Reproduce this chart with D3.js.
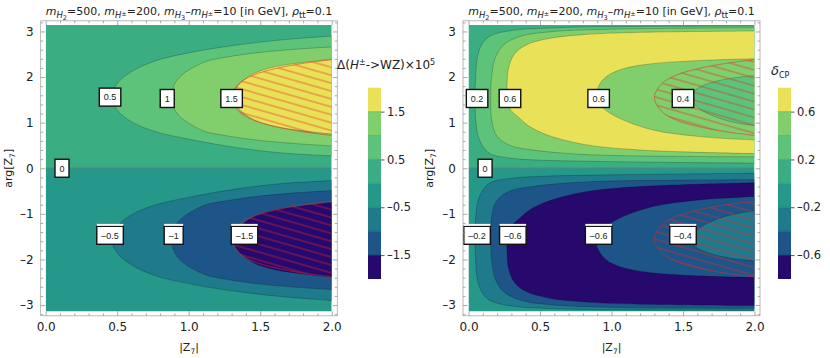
<!DOCTYPE html>
<html>
<head>
<meta charset="utf-8">
<script src="https://d3js.org/d3.v7.min.js"></script>
<style>
  body { margin: 0; background: #fff; }
  svg { display: block; }
  svg text { font-family: 'DejaVu Sans', sans-serif; fill: #222; }
  svg text.clabel { font-family: 'Liberation Sans', Arial, sans-serif; }
</style>
</head>
<body>
<div id="chart"></div>
<script>
(function(){

  // ---------- values ----------
  let xTicks = [0, 0.5, 1, 1.5, 2];
  let yTicks = [-3, -2, -1, 0, 1, 2, 3];

  // band colours, lowest band first
  let bandColors = ['#27096d', '#1e5588', '#1f7a8c', '#25988a', '#3bad83', '#5dc27a', '#80cf6c', '#e9e157'];

  let leftLegendLevels = [-2, -1.5, -1, -0.5, 0, 0.5, 1, 1.5, 2];
  let leftLegendTicks = [-1.5, -0.5, 0.5, 1.5];
  let rightLegendLevels = [-0.8, -0.6, -0.4, -0.2, 0, 0.2, 0.4, 0.6, 0.8];
  let rightLegendTicks = [-0.6, -0.2, 0.2, 0.6];

  // contour lines of the upper half as [|Z7|, arg Z7]; lower half is the mirror with opposite sign
  let leftC05 = [[2,0.27],[1.6,0.35],[1.24,0.5],[1.0,0.64],[0.77,0.8],[0.6,1.02],[0.5,1.28],[0.46,1.57],[0.5,1.86],[0.6,2.12],[0.77,2.36],[1.0,2.53],[1.24,2.66],[1.6,2.8],[2,2.9]];
  let leftC10 = [[2,0.49],[1.75,0.54],[1.47,0.62],[1.25,0.72],[1.12,0.8],[1.02,0.95],[0.95,1.1],[0.9,1.3],[0.88,1.57],[0.9,1.84],[0.95,2.04],[1.02,2.19],[1.12,2.34],[1.25,2.43],[1.47,2.53],[1.75,2.61],[2,2.66]];
  let leftC15 = [[2,0.75],[1.8,0.82],[1.61,0.91],[1.48,1.03],[1.4,1.17],[1.34,1.35],[1.31,1.57],[1.34,1.79],[1.4,1.97],[1.48,2.11],[1.61,2.23],[1.8,2.32],[2,2.39]];

  let rightC02 = [[2,0.11],[1.5,0.125],[1.0,0.145],[0.48,0.18],[0.3,0.22],[0.15,0.32],[0.1,0.48],[0.065,0.73],[0.05,1.1],[0.045,1.55],[0.05,2.0],[0.06,2.4],[0.09,2.7],[0.15,2.9],[0.3,3.02],[0.6,3.08],[1.2,3.11],[2,3.12]];
  let rightC04 = [[2,0.25],[1.5,0.26],[1.0,0.28],[0.71,0.32],[0.45,0.4],[0.29,0.5],[0.2,0.7],[0.165,1.0],[0.155,1.55],[0.165,2.1],[0.19,2.45],[0.25,2.72],[0.37,2.9],[0.6,3.0],[1.0,3.05],[2,3.08]];
  let rightC06 = [[2,0.32],[1.5,0.36],[1.2,0.4],[0.83,0.51],[0.55,0.73],[0.42,0.93],[0.36,1.09],[0.29,1.3],[0.27,1.55],[0.27,1.9],[0.28,2.2],[0.32,2.5],[0.4,2.7],[0.55,2.84],[0.8,2.93],[1.2,2.98],[2,3.01]];
  let rightC06Hole = [[2,0.62],[1.6,0.7],[1.29,0.84],[1.06,1.09],[0.95,1.3],[0.89,1.53],[0.91,1.8],[0.96,2.0],[1.06,2.16],[1.25,2.28],[1.6,2.36],[2,2.4]];
  let rightC04Inner = [[2,0.94],[1.9,0.98],[1.75,1.1],[1.63,1.28],[1.56,1.5],[1.59,1.72],[1.7,1.88],[1.85,1.98],[2,2.03]];

  // red hatched (excluded) region, same in both panels
  let hatchEdge = [[2,0.72],[1.8,0.8],[1.6,0.92],[1.45,1.06],[1.35,1.25],[1.3,1.55],[1.35,1.85],[1.45,2.04],[1.6,2.18],[1.8,2.3],[2,2.38]];

  // contour labels: text, |Z7|, arg Z7
  let leftLabels = [['0.5',0.45,1.56],['1',0.85,1.53],['1.5',1.30,1.53],['0',0.114,0],['–0.5',0.45,-1.47],['–1',0.895,-1.47],['–1.5',1.39,-1.47]];
  let rightLabels = [['0.2',0.06,1.53],['0.6',0.29,1.53],['0.6',0.91,1.53],['0.4',1.5,1.53],['0',0.116,0],['–0.2',0.06,-1.47],['–0.6',0.31,-1.47],['–0.6',0.91,-1.47],['–0.4',1.5,-1.47]];

  // ---------- drawing ----------
  let width = 830;
  let height = 358;
  let fy = [20.8, 315.8];

  let svg = d3.select('#chart')
  .append('svg')
  .attr('width', width)
  .attr('height', height);

  let defs = svg.append('defs');

  let hatch = defs.append('pattern')
  .attr('id', 'hatch')
  .attr('patternUnits', 'userSpaceOnUse')
  .attr('width', 40)
  .attr('height', 7.6)
  .attr('patternTransform', 'rotate(16)');
  hatch.append('line')
  .attr('x1', 0).attr('x2', 40).attr('y1', 3.8).attr('y2', 3.8)
  .attr('stroke', '#e5282a')
  .attr('stroke-opacity', 0.8)
  .attr('stroke-width', 0.8);

  // text with sub/superscripts: parts are [text, {it, dy, fs}]
  function richText(sel, parts, size){
    let shift = 0;
    parts.forEach(([t, o]) => {
      o = o || {};
      let target = o.dy || 0;
      sel.append('tspan')
      .attr('dy', target - shift)
      .attr('font-size', o.fs || size)
      .attr('font-style', o.it ? 'italic' : null)
      .text(t);
      shift = target;
    });
  }

  let sub = {it: 1, dy: 3, fs: 8.5};

  function titleParts(){
    return [['m', {it: 1}], ['H', sub], ['2', {dy: 5, fs: 6.5}], ['=500, '],
      ['m', {it: 1}], ['H', sub], ['±', {dy: 0.5, fs: 6.5}], ['=200, '],
      ['m', {it: 1}], ['H', sub], ['3', {dy: 5, fs: 6.5}], ['–'],
      ['m', {it: 1}], ['H', sub], ['±', {dy: 0.5, fs: 6.5}], ['=10 [in GeV], '],
      ['ρ', {it: 1}], ['tt', {dy: 3, fs: 8.5}], ['=0.1']];
  }

  let dash = (s) => s.replace('−', '–');

  function styleAxis(g){
    g.attr('font-size', 12).attr('font-family', null).attr('color', '#888');
    g.select('.domain').remove();
    g.selectAll('.tick line').attr('stroke-width', 0.7);
  }

  function drawPanel(p){
    let x = d3.scaleLinear().domain([0, 2]).range(p.xr);
    let y = d3.scaleLinear().domain([-Math.PI, Math.PI]).range([311.5, 25]);
    let g = svg.append('g');

    defs.append('clipPath').attr('id', p.id + '-clip')
    .append('rect')
    .attr('x', x(0)).attr('y', y(Math.PI))
    .attr('width', x(2) - x(0)).attr('height', y(-Math.PI) - y(Math.PI));

    let plot = g.append('g').attr('clip-path', `url(#${p.id}-clip)`);

    plot.append('rect')
    .attr('x', x(0)).attr('y', y(Math.PI))
    .attr('width', x(2) - x(0)).attr('height', y(0) - y(Math.PI))
    .attr('fill', bandColors[4]);
    plot.append('rect')
    .attr('x', x(0)).attr('y', y(0))
    .attr('width', x(2) - x(0)).attr('height', y(-Math.PI) - y(0))
    .attr('fill', bandColors[3]);

    [1, -1].forEach((sign) => {
      let line = d3.line()
      .x((d) => x(d[0]))
      .y((d) => y(sign * d[1]))
      .curve(d3.curveCatmullRom.alpha(0.5));

      p.regions.forEach((r) => {
        plot.append('path')
        .attr('d', line(r.pts) + 'Z')
        .attr('fill', bandColors[sign > 0 ? r.band : 7 - r.band]);
      });
      p.regions.forEach((r) => {
        plot.append('path')
        .attr('d', line(r.pts))
        .attr('fill', 'none')
        .attr('stroke', '#000')
        .attr('stroke-opacity', 0.3)
        .attr('stroke-width', 0.7);
      });

      plot.append('path')
      .attr('d', line(hatchEdge) + 'Z')
      .attr('fill', 'url(#hatch)');
      plot.append('path')
      .attr('d', line(hatchEdge))
      .attr('fill', 'none')
      .attr('stroke', '#e5282a')
      .attr('stroke-opacity', 0.65)
      .attr('stroke-width', 0.8);
    });

    // zero contour
    plot.append('line')
    .attr('x1', x(0)).attr('x2', x(2))
    .attr('y1', y(0)).attr('y2', y(0))
    .attr('stroke', '#000')
    .attr('stroke-opacity', 0.35)
    .attr('stroke-width', 0.7);

    // contour labels
    p.labels.forEach((l) => {
      let lg = g.append('g').attr('transform', `translate(${x(l[1])},${y(l[2])})`);
      let t = lg.append('text')
      .attr('class', 'clabel')
      .attr('text-anchor', 'middle')
      .attr('dy', '0.36em')
      .attr('font-size', 9)
      .text(l[0]);
      let w = t.node().getComputedTextLength() + 9;
      lg.insert('rect', 'text')
      .attr('x', -w / 2).attr('y', -9)
      .attr('width', w).attr('height', 18)
      .attr('fill', '#fff')
      .attr('stroke', '#111')
      .attr('stroke-width', 1.4);
      if (l[2] < 0) {
        lg.insert('rect', 'text')
        .attr('x', -w / 2).attr('y', -11.4)
        .attr('width', w).attr('height', 2)
        .attr('fill', '#f4f4f4');
      }
    });

    // frame
    let fx = p.frame;
    g.append('rect')
    .attr('x', fx[0]).attr('y', fy[0])
    .attr('width', fx[1] - fx[0]).attr('height', fy[1] - fy[0])
    .attr('fill', 'none')
    .attr('stroke', '#a8a8a8')
    .attr('stroke-width', 0.8);

    let minorX = d3.range(0, 2.0001, 0.1).filter((v) => Math.abs(v * 2 - Math.round(v * 2)) > 1e-6);
    let minorY = d3.range(-3.2, 3.2001, 0.2).filter((v) => Math.abs(v - Math.round(v)) > 1e-6);
    let none = () => '';

    g.append('g').attr('transform', `translate(0,${fy[1]})`)
    .call(d3.axisBottom(x).tickValues(xTicks).tickSize(-4.5).tickPadding(6.5).tickFormat(d3.format('.1f')))
    .call(styleAxis);
    g.append('g').attr('transform', `translate(0,${fy[1]})`)
    .call(d3.axisBottom(x).tickValues(minorX).tickSize(-2.5).tickFormat(none))
    .call(styleAxis);
    g.append('g').attr('transform', `translate(0,${fy[0]})`)
    .call(d3.axisTop(x).tickValues(xTicks).tickSize(-4.5).tickFormat(none))
    .call(styleAxis);
    g.append('g').attr('transform', `translate(0,${fy[0]})`)
    .call(d3.axisTop(x).tickValues(minorX).tickSize(-2.5).tickFormat(none))
    .call(styleAxis);

    g.append('g').attr('transform', `translate(${fx[0]},0)`)
    .call(d3.axisLeft(y).tickValues(yTicks).tickSize(-4.5).tickPadding(7).tickFormat((d) => dash(d3.format('d')(d))))
    .call(styleAxis);
    g.append('g').attr('transform', `translate(${fx[0]},0)`)
    .call(d3.axisLeft(y).tickValues(minorY).tickSize(-2.5).tickFormat(none))
    .call(styleAxis);
    g.append('g').attr('transform', `translate(${fx[1]},0)`)
    .call(d3.axisRight(y).tickValues(yTicks).tickSize(-4.5).tickFormat(none))
    .call(styleAxis);
    g.append('g').attr('transform', `translate(${fx[1]},0)`)
    .call(d3.axisRight(y).tickValues(minorY).tickSize(-2.5).tickFormat(none))
    .call(styleAxis);

    // title and axis labels
    let title = g.append('text')
    .attr('x', (fx[0] + fx[1]) / 2)
    .attr('y', 15)
    .attr('text-anchor', 'middle');
    richText(title, titleParts(), 11);

    let xl = g.append('text')
    .attr('x', (fx[0] + fx[1]) / 2)
    .attr('y', 351)
    .attr('text-anchor', 'middle');
    richText(xl, [['|Z'], ['7', {dy: 3, fs: 7.5}], ['|']], 11);

    let yl = g.append('text')
    .attr('transform', `translate(${p.ylabX},${(fy[0] + fy[1]) / 2}) rotate(-90)`)
    .attr('text-anchor', 'middle');
    richText(yl, [['arg[Z'], ['7', {dy: 3, fs: 7.5}], [']']], 11);
  }

  function drawLegend(xBar, levels, tickVals, titleX, titleY, titleParts, titleSize){
    let ly = d3.scaleLinear().domain([levels[0], levels[levels.length - 1]]).range([279, 87.7]);
    let lg = svg.append('g');

    d3.pairs(levels).forEach(([a, b], i) => {
      lg.append('rect')
      .attr('x', xBar).attr('y', ly(b))
      .attr('width', 13).attr('height', ly(a) - ly(b))
      .attr('fill', bandColors[i]);
    });
    levels.slice(1, -1).forEach((v) => {
      lg.append('line')
      .attr('x1', xBar).attr('x2', xBar + 13)
      .attr('y1', ly(v)).attr('y2', ly(v))
      .attr('stroke', '#000')
      .attr('stroke-opacity', 0.3)
      .attr('stroke-width', 0.7);
    });

    lg.append('g').attr('transform', `translate(${xBar + 13},0)`)
    .call(d3.axisRight(ly).tickValues(tickVals).tickSize(3.5).tickPadding(2.5).tickFormat((d) => dash(d3.format('')(d))))
    .call((g) => {
      g.attr('font-size', 11.5).attr('font-family', null).attr('color', '#555');
      g.select('.domain').remove();
    });

    let t = lg.append('text').attr('x', titleX).attr('y', titleY);
    richText(t, titleParts, titleSize);
  }

  drawPanel({
    id: 'left',
    xr: [45.7, 331.7],
    frame: [40.7, 337.3],
    ylabX: 12,
    regions: [{pts: leftC05, band: 5}, {pts: leftC10, band: 6}, {pts: leftC15, band: 7}],
    labels: leftLabels
  });

  drawPanel({
    id: 'right',
    xr: [468.5, 754.5],
    frame: [463, 760],
    ylabX: 433,
    regions: [{pts: rightC02, band: 5}, {pts: rightC04, band: 6}, {pts: rightC06, band: 7},
      {pts: rightC06Hole, band: 6}, {pts: rightC04Inner, band: 5}],
    labels: rightLabels
  });

  drawLegend(368, leftLegendLevels, leftLegendTicks, 337, 69,
    [['Δ('], ['H', {it: 1}], ['±', {dy: -4, fs: 8}], ['->WZ)×10'], ['5', {dy: -4, fs: 8}]], 12);
  drawLegend(778, rightLegendLevels, rightLegendTicks, 771, 75,
    [['δ', {it: 1, fs: 13}], ['CP', {dy: 3, fs: 8}]], 12);

})();
</script>
</body>
</html>
